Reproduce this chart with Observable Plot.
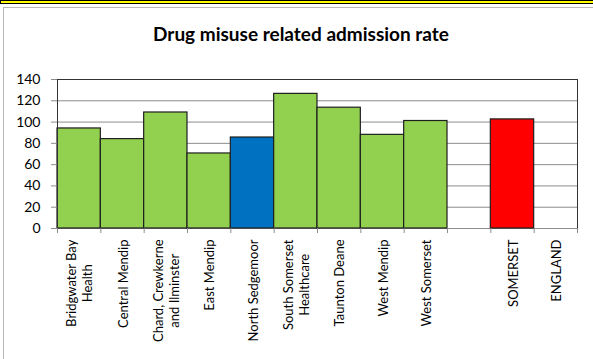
<!DOCTYPE html>
<html>
<head>
<meta charset="utf-8">
<script src="https://cdn.jsdelivr.net/npm/d3@7"></script>
<script src="https://cdn.jsdelivr.net/npm/@observablehq/plot@0.6"></script>
<style>
  html, body { margin: 0; padding: 0; background: #fff; }
  #wrap { position: relative; width: 593px; height: 359px; overflow: hidden; background: #fff; }
  #strip { position: absolute; left: 0; top: 0; width: 600px; height: 2px; background: #ffff00; border-top: 1px solid #000; border-bottom: 1px solid #000; border-left: 1px solid #000; }
  #frame { position: absolute; left: 3px; top: 7px; width: 620px; height: 400px; border: 1px solid #b9b9b9; box-sizing: border-box; }
  #title { position: absolute; left: 0; top: 22px; width: 602px; text-align: center; font-family: Lato, sans-serif; font-weight: bold; font-size: 19px; line-height: 23px; color: #000; }
  #chart { position: absolute; left: 0; top: 0; }
</style>
</head>
<body>
<div id="wrap">
  <div id="strip"></div>
  <div id="frame"></div>
  <div id="title">Drug misuse related admission rate</div>
  <div id="chart"></div>
</div>
<script>
const categories = [
  "Bridgwater Bay\nHealth",
  "Central Mendip",
  "Chard, Crewkerne\nand Ilminster",
  "East Mendip",
  "North Sedgemoor",
  "South Somerset\nHealthcare",
  "Taunton Deane",
  "West Mendip",
  "West Somerset",
  "",
  "SOMERSET",
  "ENGLAND"
];
const values = [94, 84, 109, 70.5, 85.5, 126.5, 113.5, 88, 101, null, 102.5, null];
const yTicks = [0, 20, 40, 60, 80, 100, 120, 140];
const highlight = { "North Sedgemoor": "#0070C0", "SOMERSET": "#FF0000" };

const FONT = "Lato, sans-serif";
const LABEL_SIZE = 13;

const rows = categories.map((name, i) => ({ i, name, value: values[i] }));
const bars = rows.filter(d => d.value != null);
const bandEdges = d3.range(0, categories.length + 1);

const ctx = document.createElement("canvas").getContext("2d");
ctx.font = `${LABEL_SIZE}px ${FONT}`;
const maxLineWidth = s => d3.max(s.split("\n"), l => ctx.measureText(l).width);

const labelMarks = rows.filter(d => d.name !== "").map(d =>
  Plot.text([d], {
    x: r => r.i + 0.5,
    frameAnchor: "bottom",
    text: "name",
    rotate: -90,
    textAnchor: "middle",
    lineAnchor: "middle",
    lineHeight: 16 / LABEL_SIZE,
    fontSize: LABEL_SIZE,
    fontFamily: FONT,
    fill: "#000",
    dy: 11 + maxLineWidth(d.name) / 2
  })
);

const chart = Plot.plot({
  width: 593,
  height: 359,
  marginLeft: 57,
  marginRight: 16,
  marginTop: 79,
  marginBottom: 131,
  style: { fontFamily: FONT, background: "transparent", overflow: "visible" },
  x: { type: "linear", domain: [0, categories.length], label: null },
  y: { domain: [0, 140], label: null },
  color: { type: "identity" },
  marks: [
    Plot.ruleY(yTicks.filter(t => t > 0 && t < 140), { stroke: "#8c8c8c", strokeWidth: 1 }),
    Plot.ruleY([0], { stroke: "#8c8c8c", strokeWidth: 1 }),
    Plot.rect(bars, {
      x1: d => d.i,
      x2: d => d.i + 1,
      y1: 0,
      y2: "value",
      fill: d => highlight[d.name] || "#92D050",
      stroke: "#1e1e1e",
      strokeWidth: 1.2
    }),
    Plot.ruleY([140], { stroke: "#333", strokeWidth: 1 }),
    Plot.ruleX([0, categories.length], { stroke: "#333", strokeWidth: 1 }),
    Plot.axisY({
      ticks: yTicks,
      tickSize: 6,
      tickPadding: 11,
      fontSize: 14,
      stroke: "#8c8c8c",
      fill: "#000",
      label: null
    }),
    Plot.axisX({
      ticks: bandEdges,
      tickSize: 5,
      stroke: "#8c8c8c",
      fill: null,
      label: null
    }),
    ...labelMarks
  ]
});

document.getElementById("chart").appendChild(chart);
</script>
</body>
</html>
